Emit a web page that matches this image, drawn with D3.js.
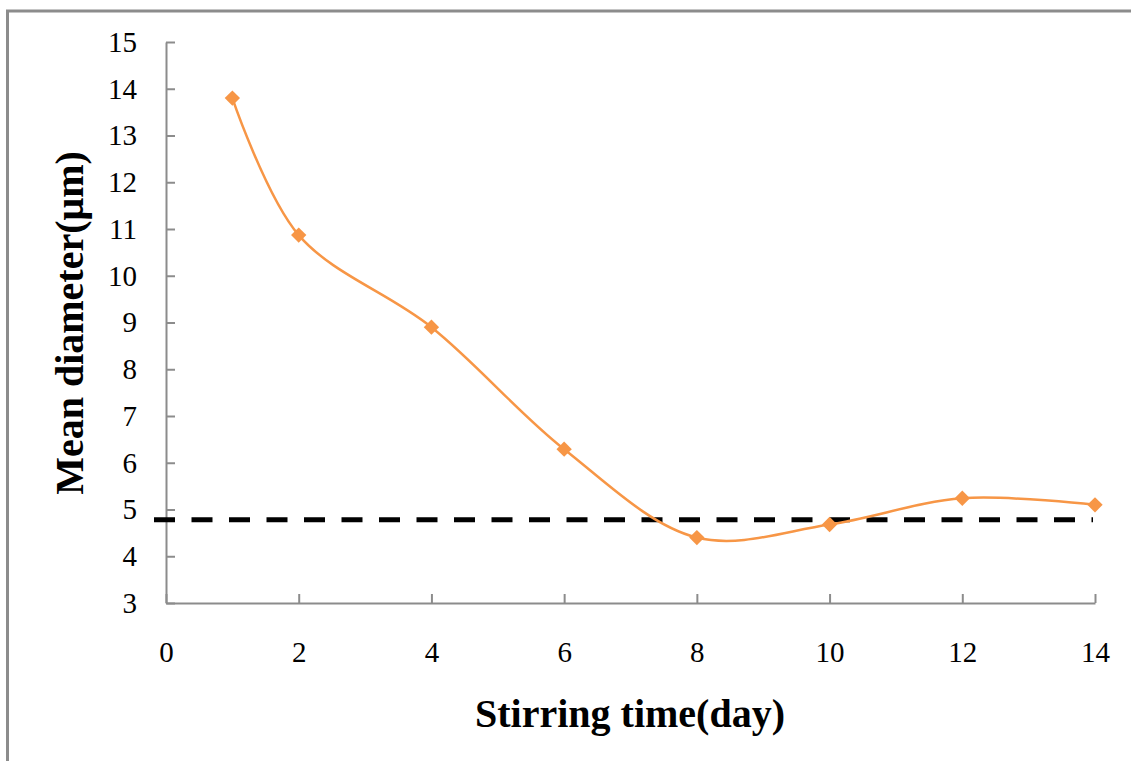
<!DOCTYPE html>
<html><head><meta charset="utf-8">
<script src="https://cdn.jsdelivr.net/npm/d3@7"></script>
<style>body{margin:0;background:#fff}svg{display:block}</style>
</head><body>
<svg id="c" width="1131" height="761"></svg>
<script>
const days = [1, 2, 4, 6, 8, 10, 12, 14];
const diameters = [13.8, 10.87, 8.9, 6.29, 4.4, 4.68, 5.24, 5.1];
const reference = 4.78;
const xTicks = [0, 2, 4, 6, 8, 10, 12, 14];
const yTicks = [3, 4, 5, 6, 7, 8, 9, 10, 11, 12, 13, 14, 15];

const svg = d3.select('#c');
svg.append('rect').attr('x', 7.5).attr('y', 11).attr('width', 1200).attr('height', 800)
  .attr('fill', '#fff').attr('stroke', '#8c8c8c').attr('stroke-width', 3);

const x = d3.scaleLinear().domain([0, 14]).range([166, 1095]);
const y = d3.scaleLinear().domain([3, 15]).range([603, 42]);
const font = '"Liberation Serif", "Times New Roman", serif';

const gx = svg.append('g').attr('transform', 'translate(0,603)')
  .call(d3.axisBottom(x).tickValues(xTicks).tickSize(-9).tickPadding(38).tickSizeOuter(0));
const gy = svg.append('g').attr('transform', 'translate(166,0)')
  .call(d3.axisLeft(y).tickValues(yTicks).tickSize(-9).tickPadding(29).tickSizeOuter(0));
[gx, gy].forEach(g => {
  g.select('.domain').attr('stroke', '#8c8c8c').attr('stroke-width', 2);
  g.selectAll('.tick line').attr('stroke', '#8c8c8c').attr('stroke-width', 2);
  g.selectAll('.tick text').attr('fill', '#000').style('font-family', font).style('font-size', '29px');
});
gx.selectAll('.tick text').attr('dy', '0.71em');

svg.append('line').attr('x1', 154).attr('x2', 1093)
  .attr('y1', y(reference)).attr('y2', y(reference))
  .attr('stroke', '#000').attr('stroke-width', 5).attr('stroke-dasharray', '21,16.5');

const pts = days.map((d, i) => [x(d), y(diameters[i])]);
svg.append('path').attr('d', d3.line().curve(d3.curveCatmullRom.alpha(0.5))(pts))
  .attr('fill', 'none').attr('stroke', '#F79646').attr('stroke-width', 2.5);

svg.selectAll('.m').data(pts).enter().append('path')
  .attr('transform', p => `translate(${p[0]},${p[1]})`)
  .attr('d', d3.symbol(d3.symbolDiamond2, 150)())
  .attr('fill', '#F79646');

svg.append('text').attr('x', 630).attr('y', 727).attr('text-anchor', 'middle')
  .style('font-family', font).style('font-size', '40px').style('font-weight', 'bold')
  .text('Stirring time(day)');
svg.append('text').attr('transform', 'translate(83,323) rotate(-90)').attr('text-anchor', 'middle')
  .style('font-family', font).style('font-size', '40px').style('font-weight', 'bold')
  .text('Mean diameter(μm)');
</script>
</body></html>
